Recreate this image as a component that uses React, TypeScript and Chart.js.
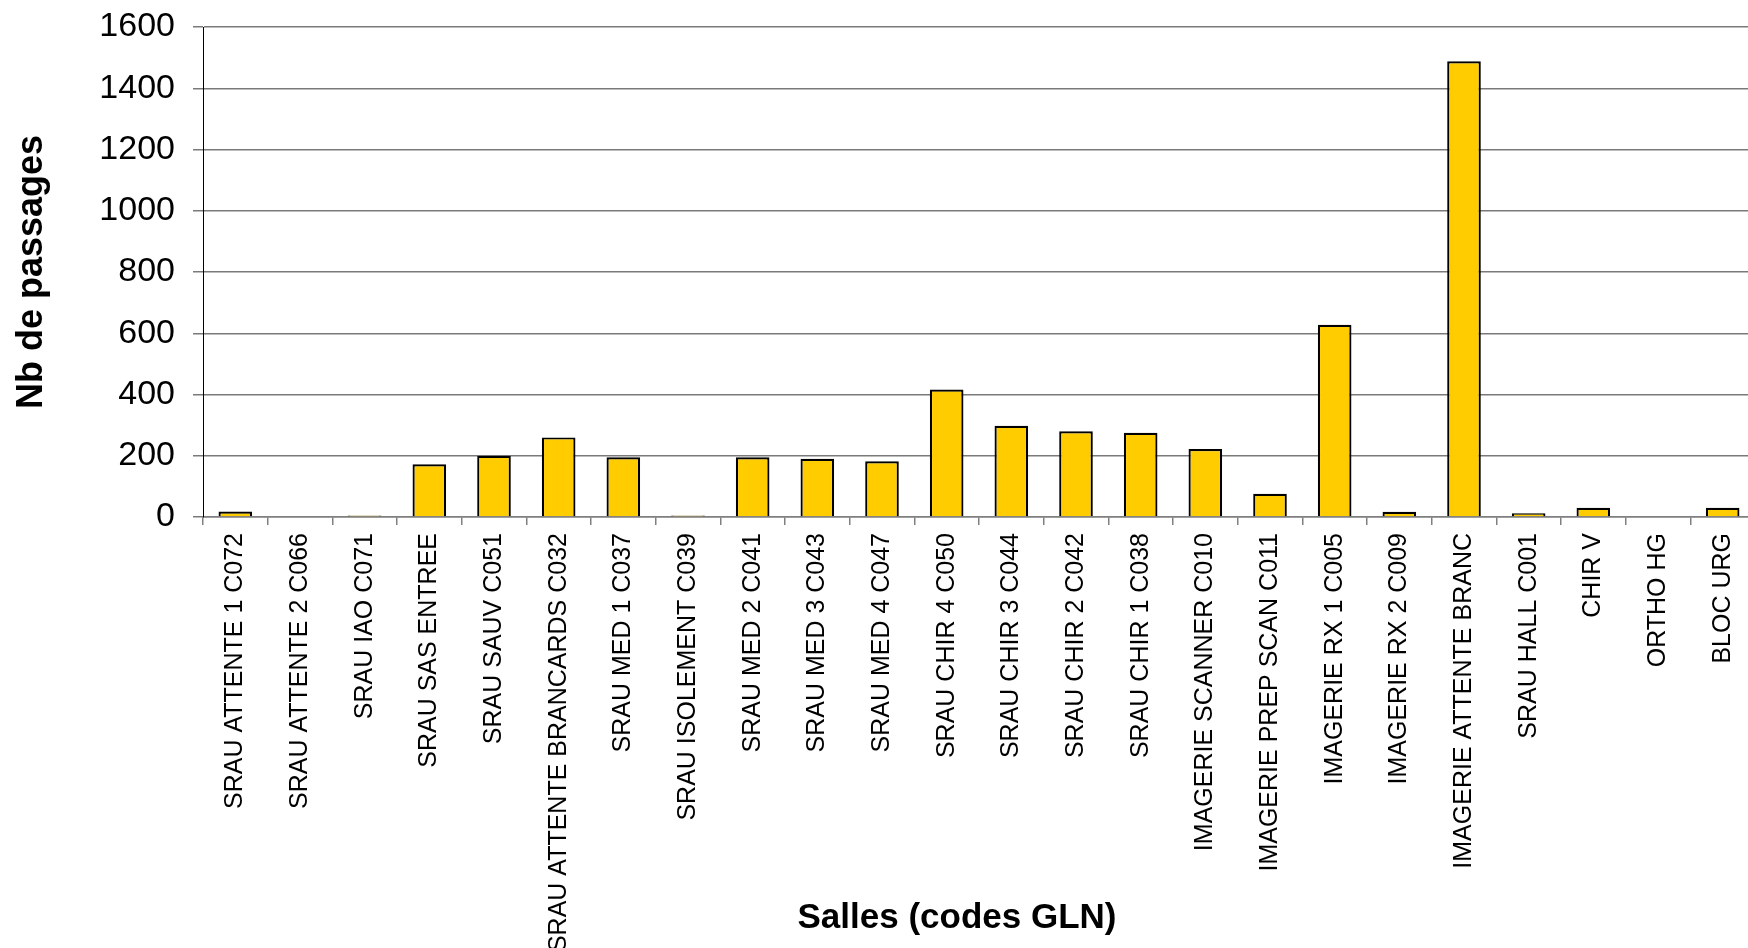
import { useEffect, useRef } from "react";
import { Chart, registerables } from "chart.js";

Chart.register(...registerables);

const categories = [
  "SRAU ATTENTE 1 C072",
  "SRAU ATTENTE 2 C066",
  "SRAU IAO C071",
  "SRAU SAS ENTREE",
  "SRAU SAUV C051",
  "SRAU ATTENTE BRANCARDS C032",
  "SRAU MED 1 C037",
  "SRAU ISOLEMENT C039",
  "SRAU MED 2 C041",
  "SRAU MED 3 C043",
  "SRAU MED 4 C047",
  "SRAU CHIR 4 C050",
  "SRAU CHIR 3 C044",
  "SRAU CHIR 2 C042",
  "SRAU CHIR 1 C038",
  "IMAGERIE SCANNER C010",
  "IMAGERIE PREP SCAN C011",
  "IMAGERIE RX 1 C005",
  "IMAGERIE RX 2 C009",
  "IMAGERIE ATTENTE BRANC",
  "SRAU HALL C001",
  "CHIR V",
  "ORTHO HG",
  "BLOC URG",
];

const passages = [
  18, 0, 5, 172, 200, 260, 195, 5, 195, 190, 182, 416, 298, 280, 275, 222, 76,
  628, 17, 1488, 12, 30, 0, 30,
];

const yMin = 0;
const yMax = 1600;
const yStep = 200;

const xTitle = "Salles (codes GLN)";
const yTitle = "Nb de passages";

const FONT = "'Liberation Sans', Arial, Helvetica, sans-serif";

const xTitlePlugin = {
  id: "xTitleDraw",
  afterDraw(chart: any) {
    const ctx = chart.ctx as CanvasRenderingContext2D;
    ctx.save();
    ctx.font = `bold 35px ${FONT}`;
    ctx.fillStyle = "#000000";
    ctx.textAlign = "center";
    ctx.textBaseline = "middle";
    ctx.fillText(xTitle, 957, 918);
    ctx.restore();
  },
};

export default function App() {
  const ref = useRef<HTMLCanvasElement>(null);

  useEffect(() => {
    if (!ref.current) return;
    const chart = new Chart(ref.current, {
      type: "bar",
      data: {
        labels: categories,
        datasets: [
          {
            data: passages,
            backgroundColor: "#FFCC00",
            borderColor: "#000000",
            borderWidth: 2.2,
            barPercentage: 0.52,
            categoryPercentage: 1,
          },
        ],
      },
      plugins: [xTitlePlugin],
      options: {
        animation: false,
        responsive: false,
        maintainAspectRatio: false,
        devicePixelRatio: 1,
        layout: { padding: { left: 10, top: 27, right: 0, bottom: 0 } },
        plugins: {
          legend: { display: false },
          tooltip: { enabled: false },
        },
        scales: {
          x: {
            grid: {
              drawOnChartArea: false,
              drawTicks: true,
              tickLength: 8,
              color: "#808080",
              lineWidth: 1.5,
            },
            border: { color: "#808080", width: 1.5 },
            ticks: {
              maxRotation: 90,
              minRotation: 90,
              autoSkip: false,
              padding: 8,
              color: "#000000",
              font: { family: FONT, size: 25 },
            },
            afterFit: (s: any) => {
              s.height = 431;
              s.paddingLeft = 0;
              s.paddingRight = 0;
            },
          },
          y: {
            min: yMin,
            max: yMax,
            ticks: {
              stepSize: yStep,
              padding: 18,
              color: "#000000",
              font: { family: FONT, size: 34 },
              callback: (v: any) => String(v),
            },
            grid: {
              color: "#7a7a7a",
              lineWidth: 1.5,
              tickLength: 10,
            },
            border: { color: "#000000", width: 1 },
            title: {
              display: true,
              text: yTitle,
              color: "#000000",
              padding: 0,
              font: { family: FONT, size: 36, weight: "bold" },
            },
            afterFit: (s: any) => {
              s.width = 193;
              s.paddingTop = 0;
              s.paddingBottom = 0;
            },
          },
        },
      },
    });
    return () => chart.destroy();
  }, []);

  return (
    <div
      style={{
        position: "fixed",
        left: 0,
        top: 0,
        width: 1748,
        height: 948,
        overflow: "hidden",
        background: "#ffffff",
      }}
    >
      <canvas
        ref={ref}
        width={1755}
        height={948}
        style={{ width: 1755, height: 948, display: "block" }}
      />
    </div>
  );
}
